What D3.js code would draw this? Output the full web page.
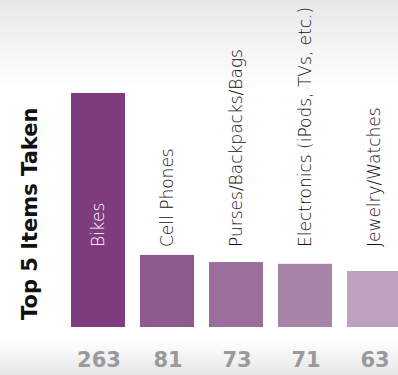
<!doctype html>
<html lang="en">
<head>
    <title>Top 5 Items Taken</title>
    <script src='https://d3js.org/d3.v7.min.js'></script>
    <style>
        body { margin: 0; background: #fff; }
        svg { display: block; }
        .lbl { font-family: "DejaVu Sans", "Century Gothic", sans-serif; }
    </style>
</head>
<body>
    <script>
        var items  = ["Bikes", "Cell Phones", "Purses/Backpacks/Bags", "Electronics (iPods, TVs, etc.)", "Jewelry/Watches"];
        var counts = [263, 81, 73, 71, 63];
        var colours = ["#7e3c7e", "#8e598e", "#9b6e9b", "#a883a8", "#bea0bf"];

        const xSize = 398;   const ySize = 375;

        const svg = d3.select("body")
                      .append("svg")
                      .attr("width",  xSize)
                      .attr("height", ySize);

        // background gradients (top and bottom)
        var defs = svg.append("defs");
        var topGrad = defs.append("linearGradient").attr("id", "topG")
                      .attr("x1", 0).attr("y1", 0).attr("x2", 0).attr("y2", 1);
        topGrad.append("stop").attr("offset", "0%").attr("stop-color", "#e8e8e8");
        topGrad.append("stop").attr("offset", "100%").attr("stop-color", "#ffffff");
        var botGrad = defs.append("linearGradient").attr("id", "botG")
                      .attr("x1", 0).attr("y1", 0).attr("x2", 0).attr("y2", 1);
        botGrad.append("stop").attr("offset", "0%").attr("stop-color", "#ffffff");
        botGrad.append("stop").attr("offset", "100%").attr("stop-color", "#e6e6e6");

        svg.append("rect").attr("width", xSize).attr("height", 90).attr("fill", "url(#topG)");
        svg.append("rect").attr("y", 340).attr("width", xSize).attr("height", 35).attr("fill", "url(#botG)");

        var x = d3.scaleBand().domain(items).range([71, 401]).paddingInner(15/69).paddingOuter(0);
        var y = d3.scaleLinear().domain([0, d3.max(counts)]).range([327, 93]);

        var g = svg.selectAll(".bar")
            .data(items)
            .enter()
            .append("g")
            .attr("class", "bar");

        // bars
        g.append("rect")
            .attr("x", function(d) { return x(d); })
            .attr("y", function(d, i) { return y(counts[i]); })
            .attr("width", x.bandwidth())
            .attr("height", function(d, i) { return y(0) - y(counts[i]); })
            .attr("fill", function(d, i) { return colours[i]; });

        // rotated category labels
        g.append("text")
            .attr("class", "lbl")
            .attr("transform", function(d) { return "translate(" + (x(d) + x.bandwidth()/2 + 6) + ",247) rotate(-90)"; })
            .attr("font-size", 17)
            .attr("font-weight", 200)
            .attr("fill", function(d, i) { return i === 0 ? "#fff" : "#111"; })
            .text(function(d) { return d; });

        // value labels under bars
        g.append("text")
            .attr("class", "lbl")
            .attr("x", function(d) { return x(d) + x.bandwidth()/2 + 1; })
            .attr("y", 367)
            .attr("text-anchor", "middle")
            .attr("font-size", 21)
            .attr("font-weight", "bold")
            .attr("fill", "#9a9a9c")
            .text(function(d, i) { return counts[i]; });

        // axis title
        svg.append("text")
            .attr("class", "lbl")
            .attr("transform", "translate(37,320) rotate(-90)")
            .attr("font-size", 21)
            .attr("font-weight", "bold")
            .attr("fill", "#111")
            .text("Top 5 Items Taken");
    </script>
</body>
</html>
